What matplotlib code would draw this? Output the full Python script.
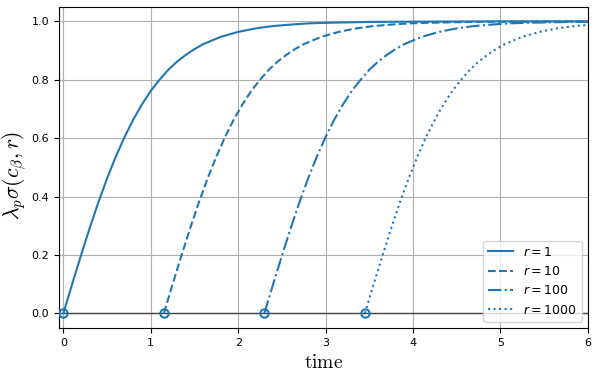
import numpy as np
import matplotlib.pyplot as plt

# values
r_values = [1, 10, 100, 1000]
t_start = [0.0, 1.15, 2.30, 3.45]
styles = ['-', '--', '-.', ':']

# curve shape: time after start -> lambda_p * sigma
dt = [0.0, 0.1, 0.2, 0.3, 0.4, 0.5, 0.6, 0.7, 0.8, 0.9, 1.0, 1.1, 1.2, 1.3,
      1.4, 1.5, 1.6, 1.8, 2.0, 2.2, 2.4, 2.6, 2.8, 3.0, 3.5, 4.0, 5.0, 6.0]
sigma = [0.0, 0.100, 0.197, 0.291, 0.380, 0.462, 0.537, 0.604, 0.664, 0.716,
         0.762, 0.800, 0.834, 0.862, 0.885, 0.905, 0.922, 0.947, 0.964, 0.976,
         0.984, 0.989, 0.993, 0.995, 0.998, 0.999, 1.0, 1.0]

fig = plt.figure(figsize=(5.98, 3.76), dpi=100)
ax = fig.add_axes([0.0987, 0.128, 0.8843, 0.854])

color = '#1f77b4'
ax.axhline(0, color='#444444', lw=1.0, zorder=2)
for r, t0, ls in zip(r_values, t_start, styles):
    t = np.array(dt) + t0
    ax.plot(t, sigma, ls=ls, color=color, lw=1.5, label=r'$r = %d$' % r)
    ax.plot([t0], [0], 'o', mfc='none', mec=color, mew=1.5, ms=6, zorder=3)

ax.set_xlim(-0.05, 6)
ax.set_ylim(-0.05, 1.05)
ax.grid(True)
ax.tick_params(labelsize=8)
ax.set_xlabel(r'$\mathrm{time}$', fontsize=14, math_fontfamily='cm')
ax.set_ylabel(r'$\lambda_p\sigma(c_\beta, r)$', fontsize=15.5,
              math_fontfamily='cm')
ax.yaxis.set_label_coords(-0.057, 0.475)
ax.legend(loc='lower right', fontsize=9, labelspacing=0.5)

fig.savefig('out.png', dpi=100)
